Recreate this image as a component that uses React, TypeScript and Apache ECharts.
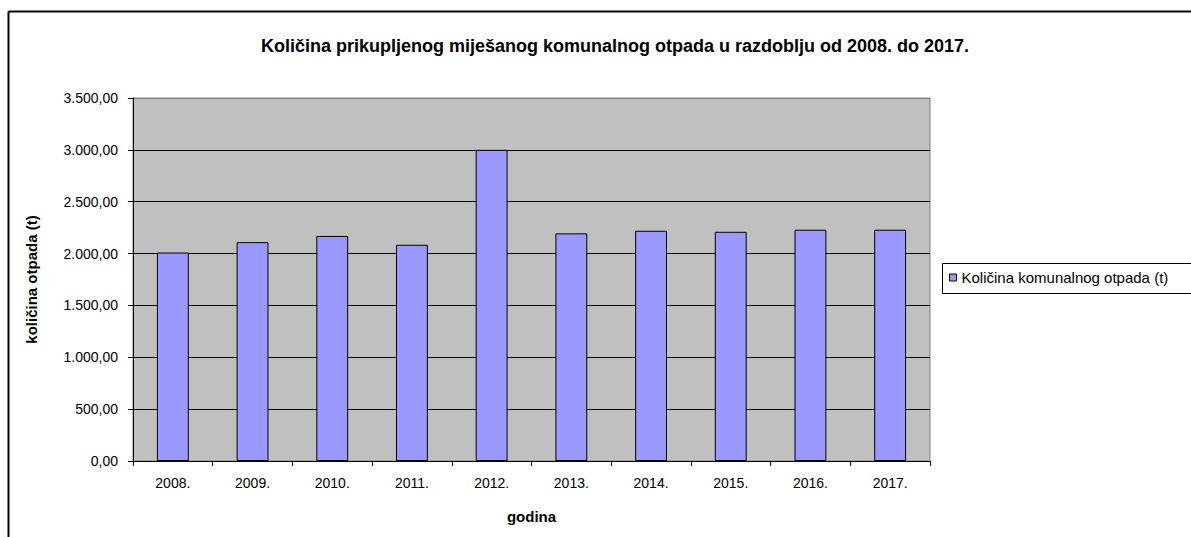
import React, { useEffect, useRef } from "react";
import * as echarts from "echarts";

const categories = ["2008.", "2009.", "2010.", "2011.", "2012.", "2013.", "2014.", "2015.", "2016.", "2017."];
const values = [2010, 2110, 2170, 2085, 3000, 2195, 2220, 2210, 2230, 2230];
const seriesName = "Količina komunalnog otpada (t)";
const titleText = "Količina prikupljenog miješanog komunalnog otpada u razdoblju od 2008. do 2017.";
const yAxisName = "količina otpada (t)";
const xAxisName = "godina";

const FONT = "'Liberation Sans', Arial, sans-serif";

function fmt(v: number): string {
  const fixed = v.toFixed(2);
  const [intPart, dec] = fixed.split(".");
  const withDots = intPart.replace(/\B(?=(\d{3})+(?!\d))/g, ".");
  return withDots + "," + dec;
}

export default function App() {
  const ref = useRef<HTMLDivElement>(null);
  useEffect(() => {
    if (!ref.current) return;
    const chart = echarts.init(ref.current, null, { renderer: "svg" });
    chart.setOption({
      animation: false,
      backgroundColor: "#ffffff",
      title: {
        text: titleText,
        left: 610,
        top: 32,
        textAlign: "center",
        textStyle: { fontFamily: FONT, fontSize: 18, fontWeight: "bold", color: "#000" },
      },
      legend: {
        left: 942,
        top: 263,
        orient: "vertical",
        padding: [7, 7, 7, 7],
        borderWidth: 0,
        itemWidth: 7,
        itemHeight: 7,
        icon: "rect",
        itemStyle: { borderColor: "#000", borderWidth: 1 },
        textStyle: { fontFamily: FONT, fontSize: 15, color: "#000" },
        data: [seriesName],
      },
      grid: {
        left: 133,
        top: 98,
        width: 797,
        height: 363,
        show: true,
        backgroundColor: "#C0C0C0",
        borderColor: "#808080",
        borderWidth: 1,
        containLabel: false,
      },
      xAxis: {
        type: "category",
        data: categories,
        name: xAxisName,
        nameLocation: "middle",
        nameGap: 48,
        nameTextStyle: { fontFamily: FONT, fontSize: 15, fontWeight: "bold", color: "#000" },
        axisLine: { show: true, lineStyle: { color: "#000", width: 1 } },
        axisTick: { show: true, alignWithLabel: false, length: 5, lineStyle: { color: "#000" } },
        axisLabel: { fontFamily: FONT, fontSize: 14, color: "#000", margin: 15 },
        splitLine: { show: false },
      },
      yAxis: {
        type: "value",
        min: 0,
        max: 3500,
        interval: 500,
        name: yAxisName,
        nameLocation: "middle",
        nameGap: 94,
        nameTextStyle: { fontFamily: FONT, fontSize: 15, fontWeight: "bold", color: "#000" },
        axisLine: { show: true, lineStyle: { color: "#000", width: 1 } },
        axisTick: { show: true, length: 5, lineStyle: { color: "#000" } },
        axisLabel: { fontFamily: FONT, fontSize: 14, color: "#000", margin: 15, formatter: (v: number) => fmt(v) },
        splitLine: {
          show: true,
          lineStyle: { color: ["#000", "#000", "#000", "#000", "#000", "#000", "#000", "#808080"], width: 1 },
        },
      },
      series: [
        {
          type: "bar",
          name: seriesName,
          data: values,
          barWidth: "40%",
          itemStyle: { color: "#9999FF", borderColor: "#000", borderWidth: 1 },
        },
      ],
      graphic: [
        { type: "line", shape: { x1: 8.5, y1: 11.5, x2: 1191, y2: 11.5 }, style: { stroke: "#000", lineWidth: 2 } },
        { type: "line", shape: { x1: 8.5, y1: 11.5, x2: 8.5, y2: 537 }, style: { stroke: "#000", lineWidth: 2 } },
        {
          type: "rect",
          shape: { x: 942.5, y: 263.5, width: 400, height: 30 },
          style: { fill: "none", stroke: "#000", lineWidth: 1 },
        },
      ],
    });
    return () => chart.dispose();
  }, []);
  return <div ref={ref} style={{ position: "fixed", left: 0, top: 0, width: 1191, height: 537 }} />;
}
